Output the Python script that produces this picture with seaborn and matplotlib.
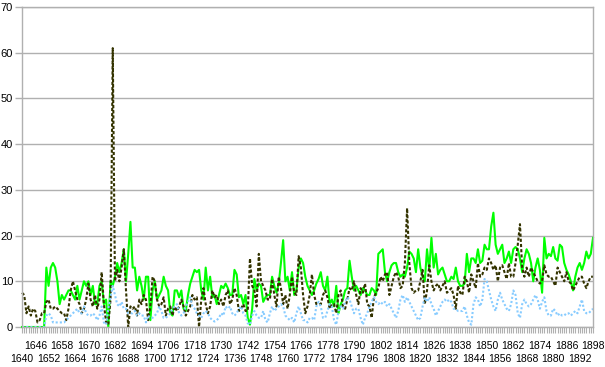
import pandas as pd
import matplotlib
matplotlib.use("Agg")
import matplotlib.pyplot as plt
import seaborn as sns

# yearly values 1640-1898, one row per decade
years = list(range(1640, 1899))

green = [
    0, 0, 0, 0, 0, 0, 0, 0, 0, 0,
    0, 13, 9, 13, 14, 13, 10, 5, 7, 6,
    7, 8, 8, 7, 6, 9, 6, 8, 10, 9,
    10, 7, 9, 5, 5, 9, 10, 5, 6, 0,
    10, 9, 11, 14, 12, 14, 17, 10, 16, 23,
    13, 13, 8, 11, 9, 6, 11, 11, 1.5, 8,
    10, 6, 7, 8, 11, 9, 8, 3, 2.5, 8,
    8, 6.5, 8, 4, 3.5, 7, 9.5, 11, 12.5, 12,
    12.5, 8, 6, 13, 8, 11, 6.5, 7, 5, 7,
    9, 8.5, 9.5, 8.5, 7, 7, 12.5, 11.5, 6.5, 7,
    5, 7, 2, 0.5, 4, 10.5, 8, 9.5, 9, 5.5,
    6.5, 7, 7, 11, 9, 7.5, 9.5, 14, 19, 10,
    11, 8, 12, 7, 8, 13, 15, 14, 11, 9,
    8, 7, 8, 9.5, 10.5, 12, 9, 8, 11, 5,
    6, 4.5, 9, 3, 5, 6, 8, 8.5, 14.5, 11,
    8, 9, 8, 7, 8.5, 8, 7, 7, 8.5, 8,
    7, 16, 16.5, 17, 12, 10, 12, 13.5, 14, 14,
    12, 11, 11.5, 11, 13, 16.5, 16, 15, 12, 17,
    13, 11, 10, 17, 12.5, 19.5, 13, 16, 11.5, 12.5,
    13, 11.5, 10, 10, 11, 10.5, 13, 10, 9, 9,
    9.5, 16, 12, 15, 15, 14, 17, 14, 14.5, 18,
    17, 17, 22, 25, 18, 16, 17, 18, 14, 15,
    16.5, 14, 17, 17.5, 17, 15, 12, 15, 17, 16,
    14, 10, 13, 15, 12.5, 7.5, 19.5, 15, 16, 15.5,
    17.5, 15, 14.5, 18, 17.5, 14, 12.5, 11.5, 10, 8,
    11, 13, 14, 12.5, 14, 16.5, 15, 16, 19.5,
]

dark = [
    7.5, 7, 3, 4.5, 2.5, 4, 3.5, 1, 1.5, 3,
    3, 5.5, 6, 4, 4, 4.5, 4, 3.5, 3, 3,
    1.5, 4, 8, 10, 8, 6, 5, 3, 4, 6,
    9.5, 6, 4.5, 7, 4, 6, 12, 5, 1, 0.5,
    6, 61, 10, 12.5, 10, 13, 17, 8, 0, 4.5,
    4, 4.5, 2.5, 6, 5, 7, 6, 1.5, 4.5, 11,
    10, 6, 4.5, 5, 6.5, 2.5, 4, 4.5, 2.5, 4.5,
    3.5, 4.5, 6, 4.5, 2.5, 3.5, 4.5, 7, 6, 6.5,
    0, 6, 8.5, 5, 3, 4.5, 8, 6.5, 7, 5,
    6, 4.5, 7, 8, 5, 6, 8.5, 7, 3.5, 4,
    5, 3.5, 3.5, 15, 9, 8, 4.5, 16, 10, 9,
    8, 6, 6, 10.5, 7, 4.5, 11, 8.5, 5, 7,
    4, 7, 11, 7.5, 7, 15.5, 13, 7, 3, 4.5,
    7, 11.5, 7, 5, 5, 5, 7, 8, 6.5, 4,
    5, 5, 3, 7, 8, 4.5, 4, 6, 8.5, 8,
    10, 7, 5, 8.5, 7.5, 9.5, 5, 4.5, 2, 6.5,
    7.5, 8.5, 11, 10, 11.5, 12, 7, 9, 11, 12,
    11, 8.5, 9, 14, 26, 14, 8.5, 7.5, 8, 8,
    10, 12.5, 5, 8, 13.5, 10, 8, 9, 9.5, 8,
    9, 10, 7.5, 8, 8.5, 7, 4, 9, 7.5, 7,
    11, 10, 7.5, 11.5, 10, 8.5, 14, 11, 11.5, 13,
    12.5, 15, 14, 12.5, 13.5, 10, 13, 13.5, 12, 10.5,
    14, 11, 11, 14, 18, 22.5, 13, 11, 13, 11,
    13, 12, 11, 10, 9.5, 10, 13.5, 11.5, 11, 11,
    10, 9, 13, 12, 11, 10, 12, 10, 9.5, 8,
    9, 10, 11, 11, 9.5, 8.5, 10, 11, 11,
]

blue = [
    0, 0, 0, 0, 0, 0, 0, 0, 0, 0,
    0, 2.5, 3, 2.5, 1, 1, 1, 1, 1, 1,
    1.5, 2, 2.5, 3, 3.5, 4, 3, 3, 4.5, 3,
    2.5, 2.5, 3, 2.5, 1.5, 2.5, 4.5, 1, 0.5, 4,
    6.5, 9, 7, 5, 4.5, 5.5, 4, 4, 3, 3,
    3, 3.5, 2.5, 3, 2.5, 2.5, 1, 2.5, 2, 2,
    2.5, 3, 4.5, 3.5, 2, 2, 2.5, 3, 4, 4.5,
    5, 3, 2.5, 3, 4.5, 5.5, 6.5, 4.5, 4, 3,
    2.5, 2, 3, 3.5, 3, 2, 1.5, 1.2, 1.5, 2,
    3, 2.5, 4.5, 4, 4.5, 3, 2.5, 3, 4, 4.5,
    3, 2.5, 0.8, 0.5, 2.5, 3.5, 2.5, 2, 2, 3.5,
    1.5, 1, 3, 4.5, 3.5, 4, 4.5, 5, 4.5, 2.5,
    2, 1.5, 2, 1, 3, 4.5, 3, 1.5, 1.5, 1,
    2, 2, 1.5, 4.5, 5.5, 4.5, 2, 2, 3.5, 5,
    4.5, 1.5, 0.5, 3.5, 4.5, 4, 5.5, 6.5, 6, 4.5,
    3, 4, 4, 2, 0.5, 2, 3, 4.5, 5.5, 6.5,
    5.5, 5, 5.5, 5, 5.5, 4.5, 5, 4, 3, 2,
    3.5, 6, 7, 5.5, 6.5, 5.5, 4.5, 3.5, 2.5, 1.5,
    2, 4.5, 6.5, 5.5, 6.5, 5, 4, 2.5, 3.5, 4.5,
    5.5, 6, 5.5, 6, 5.5, 4, 4, 3.5, 3.5, 3.5,
    4.5, 2.5, 1, 0.5, 5, 6.5, 6, 4.5, 6, 10.5,
    10, 8, 6, 4.5, 3.5, 6, 7.5, 6, 5, 4,
    3.5, 5, 8, 7, 3, 2, 5, 6, 5, 4.5,
    5, 6, 7, 6, 4, 5.5, 6.5, 3.5, 2.5, 2.5,
    4, 3.5, 2.5, 3, 2.5, 2.5, 3, 3, 2.5, 3,
    3.5, 3, 4.5, 6, 3.5, 3, 3, 3.5, 4,
]

series_names = ["green", "dark", "blue"]
colors = {"green": "#00FF00", "dark": "#333300", "blue": "#88CCFF"}
dash_styles = {"green": "", "dark": (1.5, 1), "blue": (1, 1)}

df = pd.DataFrame({
    "year": years * 3,
    "value": green + dark + blue,
    "series": ["green"] * len(years) + ["dark"] * len(years) + ["blue"] * len(years),
})

plt.rcParams["font.family"] = ["Liberation Sans", "DejaVu Sans"]
grey = "#B0B0B0"

fig = plt.figure(figsize=(6.05, 3.67), dpi=100)
ax = fig.add_axes([22 / 605, 1 - 327 / 367, (593 - 22) / 605, (327 - 7) / 367])

sns.lineplot(data=df, x="year", y="value", hue="series", style="series",
             hue_order=series_names, style_order=series_names,
             palette=colors, dashes=dash_styles, linewidth=1.5,
             legend=False, ax=ax, clip_on=False)

ax.set_xlim(1640, 1898)
ax.set_ylim(0, 70)
ax.set_xlabel("")
ax.set_ylabel("")

# y axis
ax.set_yticks(range(0, 71, 10))
ax.yaxis.grid(True, color=grey, linewidth=1)
ax.set_axisbelow(True)
ax.tick_params(axis="y", length=5, width=1, color=grey, pad=1.5, labelsize=8)

# x axis: a tick every year, labels every 6 years on two rows
upper_years = list(range(1646, 1899, 12))
lower_years = list(range(1640, 1899, 12))
ax.set_xticks(upper_years)
ax.set_xticklabels([str(y) for y in upper_years])
ax.set_xticks(years, minor=True)
ax.tick_params(axis="x", which="both", length=4, width=0.8, color=grey,
               pad=6, labelsize=7.5)

lower = ax.secondary_xaxis("bottom")
lower.set_xticks(lower_years)
lower.set_xticklabels([str(y) for y in lower_years])
lower.tick_params(axis="x", length=0, pad=19.5, labelsize=7.5)
lower.spines["bottom"].set_visible(False)

for side in ["left", "right", "bottom", "top"]:
    ax.spines[side].set_color(grey)
    ax.spines[side].set_linewidth(1)

fig.savefig("out.png", dpi=100)
